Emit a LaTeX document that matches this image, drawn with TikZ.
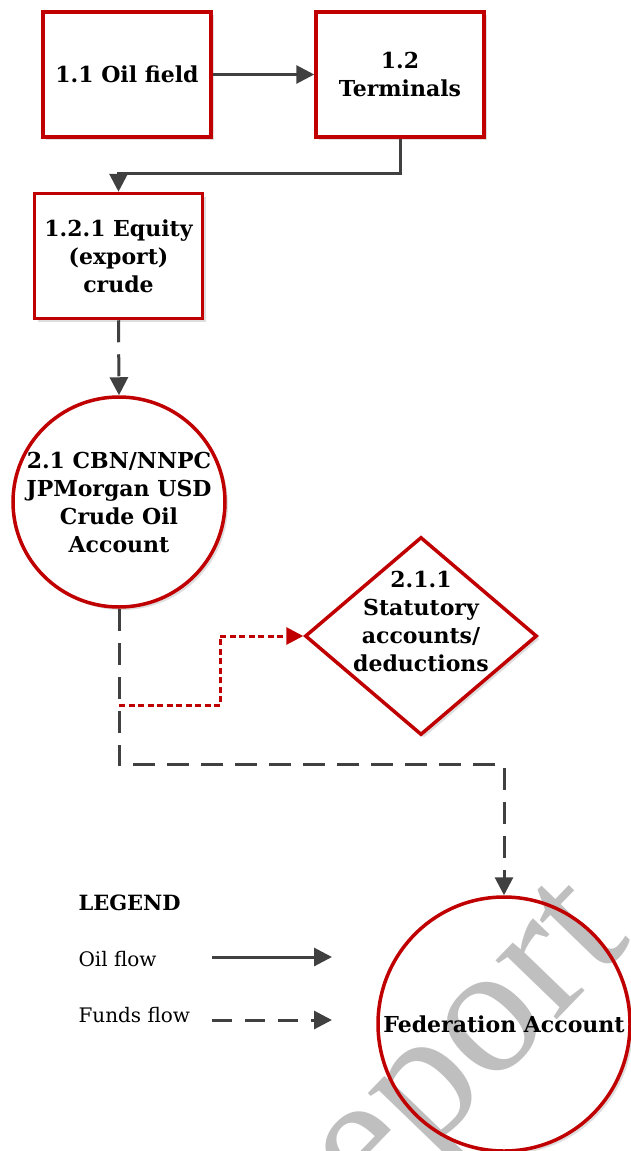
\documentclass[tikz,border=0pt]{standalone}
\usepackage{fontspec}
\setmainfont{DejaVu Serif}
\newfontfamily\wmfont{Liberation Serif}
\usetikzlibrary{arrows.meta,calc,shapes.geometric,shadows}
\definecolor{boxred}{RGB}{192,0,0}
\definecolor{flowgray}{RGB}{64,64,64}
\tikzset{
  outlined/.style={draw=boxred, line width=3.5pt, fill=white,
    drop shadow={shadow xshift=3pt, shadow yshift=-3pt, fill=black!13, opacity=1}},
  bigtext/.style={align=center, font=\fontsize{22}{28}\selectfont\bfseries},
  stepbox/.style={outlined, bigtext, rectangle, minimum width=168pt, minimum height=125pt, inner sep=0pt},
  acctshape/.style={outlined, ellipse, inner sep=0pt},
  decshape/.style={outlined, diamond, inner sep=0pt, minimum width=232pt, minimum height=198pt},
  oilflow/.style={draw=flowgray, line width=3pt, -{Triangle[length=18pt,width=18pt]}},
  fundsflow/.style={oilflow, dash pattern=on 22pt off 12pt},
  deduct/.style={draw=boxred, line width=3pt, dash pattern=on 6pt off 3.5pt,
    -{Triangle[length=17pt,width=17pt,fill=boxred]}},
  legendtext/.style={anchor=west, font=\fontsize{20}{24}\selectfont}
}
\begin{document}
\begin{tikzpicture}[x=1pt,y=-1pt]
\useasboundingbox (0,0) rectangle (630,1151);

% oil side
\node[stepbox] (field) at (127,74.5) {1.1 Oil field};
\node[stepbox] (term) at (400,74.5) {1.2\\Terminals};
\node[stepbox] (equity) at (118.5,256) {1.2.1 Equity\\(export)\\crude};

% accounts
\node[acctshape, minimum width=212pt, minimum height=210pt,
  label={[bigtext]center:{2.1 CBN/NNPC\\JPMorgan USD\\Crude Oil\\Account}}] (acct) at (119,502) {};
\node[decshape, label={[bigtext, yshift=15pt]center:{2.1.1\\Statutory\\accounts/\\deductions}}] (stat) at (421,636) {};
% federation account: fill first, watermark, then outline and text
\node[acctshape, draw=none, minimum width=252pt, minimum height=254pt] (fedfill) at (504,1024) {};
\node[rotate=46, text=black!25, font=\fontsize{185}{185}\selectfont\wmfont] (wm) at (429,1094) {Report};
\node[ellipse, draw=boxred, line width=3.5pt, inner sep=0pt, minimum width=252pt, minimum height=254pt,
  label={[bigtext]center:{Federation Account}}] (fed) at (fedfill) {};

% flows
\draw[oilflow] (field.east) -- (term.west);
\draw[oilflow] (term.south) -- ++(0,35) -| (equity.north);
\draw[fundsflow] (equity.south) -- (acct.north);
\draw[fundsflow] (acct.south) -- ++(0,156) -| (fed.north);
\coordinate (split) at ($(acct.south)+(0,97)$);
\draw[deduct] (split) -- ++(101,0) |- (stat.west);

% legend
\node[legendtext, font=\fontsize{21}{24}\selectfont\bfseries] (legend) at (75,903) {LEGEND};
\node[legendtext] (oilkey) at (75,959) {Oil flow};
\node[legendtext] (fundskey) at (75,1015) {Funds flow};
\coordinate (oila) at (212,957);
\coordinate (oilb) at (332,957);
\coordinate (fundsa) at (212,1020);
\coordinate (fundsb) at (332,1020);
\draw[oilflow] (oila) -- (oilb);
\draw[oilflow, dash pattern=on 20pt off 13pt] (fundsa) -- (fundsb);
\end{tikzpicture}
\end{document}
